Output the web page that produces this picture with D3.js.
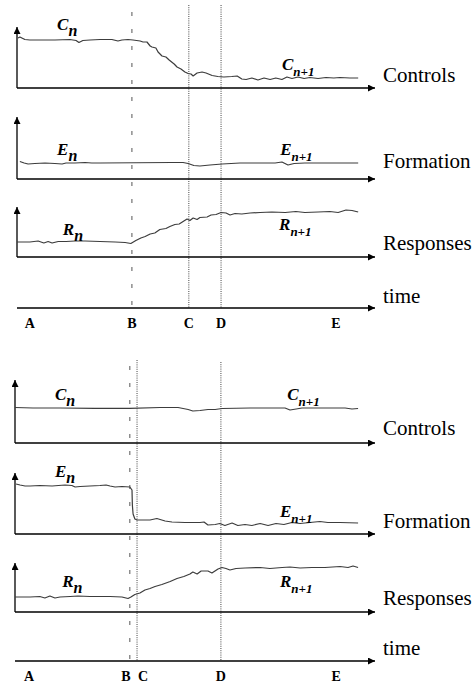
<!DOCTYPE html>
<html>
<head>
<meta charset="utf-8">
<script src="https://cdn.jsdelivr.net/npm/d3@7"></script>
<style>
  body { margin: 0; background: #fff; }
  svg { display: block; }
  svg text { font-family: "Liberation Serif", "DejaVu Serif", serif; }
</style>
</head>
<body>
<svg class="chart"></svg>
<script>
// ---- data (time in 0..100 units along each time axis, level = height above panel axis)
var panelNames = ["Controls", "Formation", "Responses"];
var seriesLetters = ["C", "E", "R"];
var eventNames = ["A", "B", "C", "D", "E"];
var topEvents = [3.6, 32.1, 48, 57, 89.1];
var bottomEvents = [3.9, 31.9, 33.9, 57.2, 89.2];

var topControls = [[0.3,50],[0.8,51],[2.2,48.5],[3.6,48],[6.4,48],[10.6,48],[14.8,48.5],[16.5,47.5],[17.3,45.5],[18.4,47.5],[20.4,48],[23.2,48.5],[26.5,48.5],[28.2,47],[29.3,48],[31,48.5],[32.4,48],[34.4,47],[35.2,46],[36.3,46],[37.2,42],[37.7,41],[38.8,40],[39.4,36],[40.5,32],[41.6,31],[42.5,28],[43.9,24],[44.7,21],[45.8,19],[46.9,16],[47.8,14.5],[48.6,14],[49.2,12],[50.3,15],[51.7,16],[52.8,15],[54.5,12.5],[56.1,11.5],[57.8,11],[60,11.5],[61.5,12],[62.8,9],[64,8.5],[65.6,10],[67.3,8],[69,10],[70.7,8.5],[72.3,10],[74,8.5],[75.4,11],[76.8,9.5],[78.5,11],[80.2,9.5],[81.8,10.5],[84.1,9.5],[86.3,10.5],[88.5,10],[90.2,10.5],[93,10],[95.3,10]];
var topFormation = [[0.8,17.5],[2,16],[3.1,15],[5,15.5],[7.8,16],[10.6,15.5],[12.6,15],[13.7,16],[16.2,16],[19,16.5],[20.9,16],[23.2,16],[43.3,16.5],[46.4,16.5],[47.8,15.5],[49.4,13.5],[51.1,13],[53.9,14],[57.3,15],[62.3,16],[72.1,16],[74,17],[75.7,14],[77.4,15.5],[80.4,16],[95.3,16]];
var topResponses = [[0,15],[3.6,15],[5.9,16],[7.5,14],[8.7,15.5],[9.8,14],[11.5,15.5],[13.7,15.5],[16.2,16],[19,16],[23.2,15.5],[27.4,15],[30.2,14.5],[31.8,13.5],[33.2,16.5],[34.6,19],[35.8,20.5],[37.2,23],[38.5,24],[39.9,27.5],[41.6,28.5],[42.7,30.5],[44.1,32.5],[45.3,33],[46.4,35.5],[47.5,38],[48.3,36.5],[49.2,39],[50.3,37.5],[51.1,39.5],[53.1,40],[54.2,42],[55.6,42.5],[57,44.5],[58.4,44],[59.5,42],[60.9,43.5],[62.8,43],[65.1,44],[67.9,44.5],[71.2,45],[74.9,44.5],[77.9,45.5],[80.4,44.5],[84.1,45],[87.4,45.5],[89.7,44.5],[91.9,47],[93.6,46.5],[95.3,45]];

var bottomControls = [[0,35.5],[5,35],[12.5,35],[22.2,34.7],[31.9,34.7],[40.3,35.5],[45.3,35.5],[48.1,33.5],[49.4,32],[51.4,32.5],[53.6,33.5],[55.6,33.5],[57.5,34.5],[65.3,35],[75,35],[76.4,33],[78.1,34],[79.7,35],[91.7,35],[93.6,34],[95.3,34.5]];
var bottomFormation = [[0.3,50],[1.4,49],[2.8,48],[4.2,48],[6.9,48.5],[10.3,48],[13.9,49],[15.8,48.5],[16.7,47],[18.1,47.5],[20.8,48],[23.6,48.5],[25.3,49],[26.4,48],[27.8,47],[29.7,47.5],[31.9,47],[32.5,44],[32.6,29],[32.8,20],[33.3,15],[33.9,14],[37.5,14],[39.4,15.5],[41.7,13],[43.6,12],[47.2,11.5],[51.4,11.5],[52.5,12],[53.6,9],[55.6,9.5],[56.9,10.5],[58.3,8.5],[60.3,11],[61.9,8.5],[63.9,9.5],[65.8,8.5],[68.1,10.5],[70.3,8.5],[72.5,10.5],[74.7,9.5],[76.9,11.5],[79.2,10.5],[81.9,11.5],[84.7,12.5],[86.9,11.5],[90.3,11.5],[95.3,11]];
var bottomResponses = [[0,15],[4.2,15],[6.9,15.5],[8.3,14],[9.7,16],[11.1,14],[12.5,15],[15.3,15.5],[17.5,16],[20.8,15.5],[26.4,15.5],[29.7,15],[31.4,13.5],[32.2,15],[33.3,17.5],[34.7,19],[36.1,22],[37.5,23.5],[38.9,25.5],[40.8,27.5],[43.1,30.5],[45,33.5],[46.9,35.5],[48.6,38],[49.4,40],[50.6,38],[51.7,41],[53.6,41],[54.7,39],[56.4,43],[57.5,44.5],[58.6,43.5],[59.7,42],[61.4,43.5],[63.9,44],[68.1,44.5],[70.8,43.5],[74.2,44.5],[76.4,45],[79.2,44],[82.5,44.5],[86.1,44.5],[90.3,45.5],[92.5,44.5],[93.9,46],[95.3,44.5]];

// series label anchors [time, level] for "X_n" and "X_n+1"
var topLabels = [[[11.2,58],[74,18]], [[11.2,24],[73.5,24]], [[12.8,22],[73.2,27]]];
var bottomLabels = [[[11.1,43],[75.6,43]], [[11.1,57],[73.6,17]], [[13.1,25],[73.6,25]]];

// ---- layout
var width = 475, height = 686;

var diagrams = [
  { x0: 17, axes: [88, 179, 257], tops: [27, 117, 207], timeY: 308, lineTop: [12, 5, 5],
    series: [topControls, topFormation, topResponses], labels: topLabels,
    events: topEvents, letterDx: [0, 0, 0, 0, 0], textY: [82, 168, 250, 303] },
  { x0: 15, axes: [443, 534, 612], tops: [380, 473, 563], timeY: 661, lineTop: [366, 360, 362],
    series: [bottomControls, bottomFormation, bottomResponses], labels: bottomLabels,
    events: bottomEvents, letterDx: [0, -4, 6, 0, 0], textY: [435, 528, 605, 655] }
];

var svg = d3.select(".chart")
  .attr("width", width)
  .attr("height", height);

svg.append("rect").attr("width", width).attr("height", height).attr("fill", "#fff");

var defs = svg.append("defs");
defs.append("marker")
  .attr("id", "arrow")
  .attr("viewBox", "0 0 10 10")
  .attr("refX", 10).attr("refY", 5)
  .attr("markerUnits", "userSpaceOnUse")
  .attr("markerWidth", 8).attr("markerHeight", 7)
  .attr("orient", "auto")
  .append("path")
  .attr("d", "M0,0L10,5L0,10Z")
  .attr("fill", "#000");

diagrams.forEach(function(dg){
  var x = d3.scaleLinear().domain([0, 100]).range([dg.x0, 375]);
  var g = svg.append("g");

  // event lines (B dashed, the rest dotted)
  dg.events.forEach(function(t, i){
    if (i === 0 || i === 4) return;
    g.append("line")
      .attr("x1", x(t)).attr("x2", x(t))
      .attr("y1", dg.lineTop[i - 1]).attr("y2", dg.timeY)
      .attr("stroke", i === 1 ? "#555" : "#444")
      .attr("stroke-width", 1)
      .attr("stroke-dasharray", i === 1 ? "4,13" : "1,1.2");
  });

  // three panels
  panelNames.forEach(function(name, p){
    var y = d3.scaleLinear().domain([0, 60]).range([dg.axes[p], dg.axes[p] - 60]);

    g.append("line")
      .attr("x1", x(0)).attr("x2", x(0))
      .attr("y1", dg.axes[p]).attr("y2", dg.tops[p])
      .attr("stroke", "#000").attr("stroke-width", 1.3)
      .attr("marker-end", "url(#arrow)");
    g.append("line")
      .attr("x1", x(0)).attr("x2", x(100))
      .attr("y1", dg.axes[p]).attr("y2", dg.axes[p])
      .attr("stroke", "#000").attr("stroke-width", 1.3)
      .attr("marker-end", "url(#arrow)");

    var line = d3.line()
      .x(function(d){ return x(d[0]); })
      .y(function(d){ return y(d[1]); });
    g.append("path")
      .datum(dg.series[p])
      .attr("d", line)
      .attr("fill", "none")
      .attr("stroke", "#3c3c3c")
      .attr("stroke-width", 1.2)
      .attr("stroke-linejoin", "round");

    // X_n and X_n+1 labels
    dg.labels[p].forEach(function(pos, k){
      var t = g.append("text")
        .attr("x", x(pos[0])).attr("y", y(pos[1]))
        .attr("font-weight", "bold").attr("font-style", "italic")
        .attr("font-size", 17)
        .attr("fill", "#000");
      t.append("tspan").text(seriesLetters[p]);
      t.append("tspan")
        .attr("dy", 6)
        .attr("font-size", k === 0 ? 16 : 13)
        .text(k === 0 ? "n" : "n+1");
    });

    g.append("text")
      .attr("x", 383).attr("y", dg.textY[p])
      .attr("font-size", 21)
      .attr("fill", "#000")
      .text(name);
  });

  // time axis
  g.append("line")
    .attr("x1", x(0)).attr("x2", x(100))
    .attr("y1", dg.timeY).attr("y2", dg.timeY)
    .attr("stroke", "#000").attr("stroke-width", 1.3)
    .attr("marker-end", "url(#arrow)");
  g.append("text")
    .attr("x", 383).attr("y", dg.textY[3])
    .attr("font-size", 21)
    .attr("fill", "#000")
    .text("time");

  g.selectAll(".ev")
    .data(dg.events)
    .enter()
    .append("text")
    .attr("x", function(d, i){ return x(d) + dg.letterDx[i]; })
    .attr("y", dg.timeY + 20)
    .attr("text-anchor", "middle")
    .attr("font-weight", "bold")
    .attr("font-size", 14)
    .attr("fill", "#000")
    .text(function(d, i){ return eventNames[i]; });
});
</script>
</body>
</html>
